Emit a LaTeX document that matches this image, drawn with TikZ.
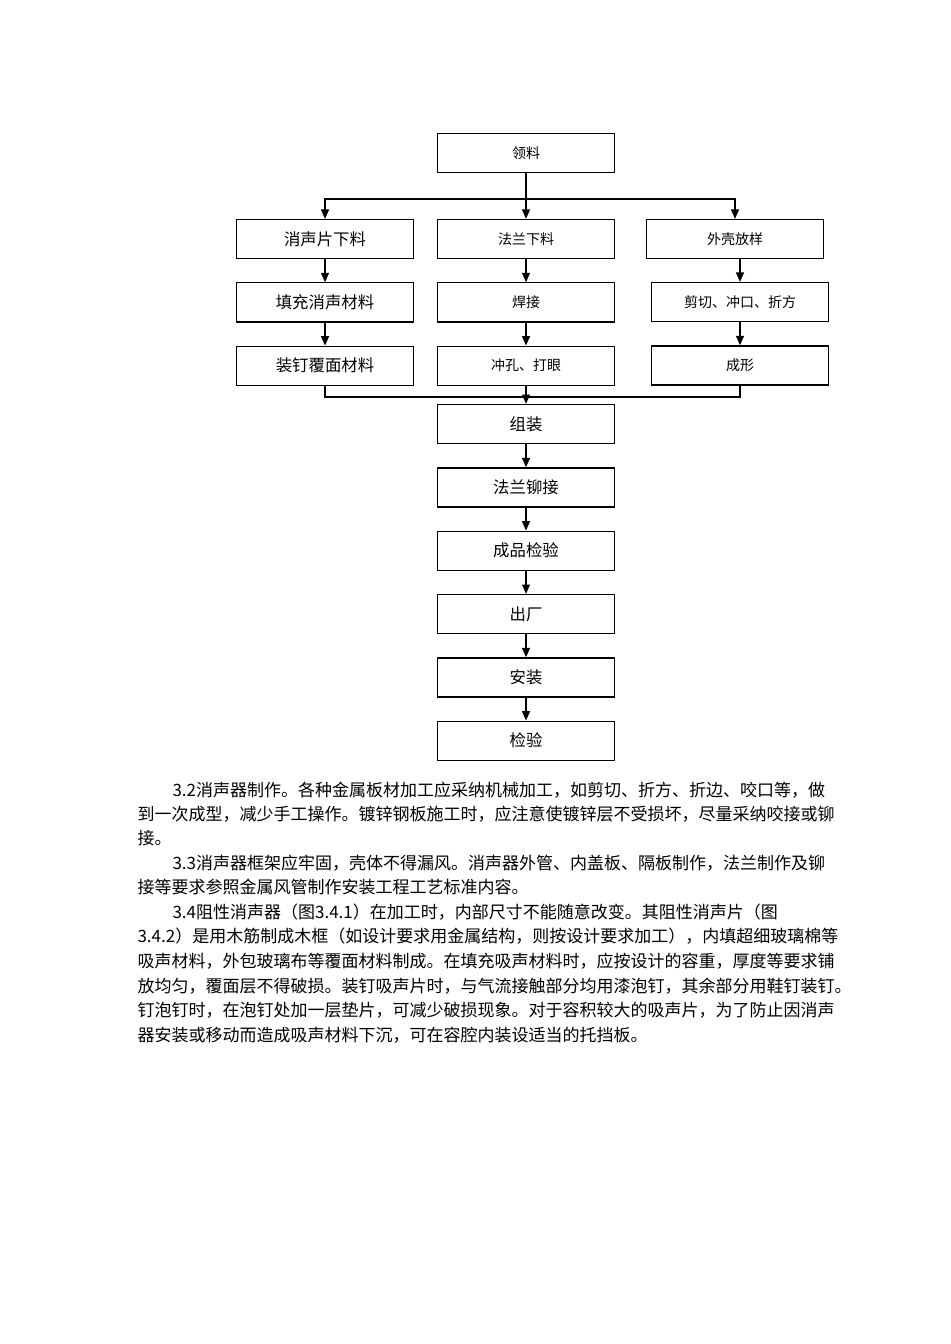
\documentclass[tikz,border=0pt]{standalone}
\usepackage{fontspec}
\newfontfamily\cjk{Noto Sans CJK SC}
\usetikzlibrary{arrows.meta,positioning}

\begin{document}
\begin{tikzpicture}
  [x=0.75pt,y=-0.75pt,node distance=17.25pt,>={Triangle[length=7pt,width=6pt]},
   every path/.style={line width=0.8pt},
   box/.style={rectangle,draw,line width=1pt,minimum width=133pt,minimum height=29.25pt,font=\cjk\fontsize{12.3}{14}\selectfont},
   smallbox/.style={box,font=\cjk\fontsize{10.5}{12}\selectfont},
   para/.style={anchor=west,inner sep=0pt,font=\cjk\fontsize{12.75}{15}\selectfont}]
  \useasboundingbox (0,0) rectangle (950,1344);
  \node[smallbox] (pick) at (526,153) {领料};
  \node[box] (sheet_cut) at (325,239) {消声片下料};
  \node[smallbox] (flange_cut) at (526,239) {法兰下料};
  \node[smallbox] (shell_layout) at (735,239) {外壳放样};
  \node[box] (fill) [below=of sheet_cut] {填充消声材料};
  \node[box] (cover) [below=of fill] {装钉覆面材料};
  \node[smallbox] (weld) [below=of flange_cut] {焊接};
  \node[smallbox] (punch) [below=of weld] {冲孔、打眼};
  \node[smallbox] (shear) at (740,302) {剪切、冲口、折方};
  \node[smallbox] (form) [below=of shear] {成形};
  \node[box] (assemble) at (526,424) {组装};
  \node[box] (rivet) [below=of assemble] {法兰铆接};
  \node[box] (check_prod) [below=of rivet] {成品检验};
  \node[box] (leave) [below=of check_prod] {出厂};
  \node[box] (install) [below=of leave] {安装};
  \node[box] (check) [below=of install] {检验};
  \coordinate (split) at (526,199);
  \coordinate (join) at (526,397);
  \draw (pick.south) -- (split);
  \draw [->] (split) -| (sheet_cut.north);
  \draw [->] (split) -- (flange_cut.north);
  \draw [->] (split) -| (shell_layout.north);
  \draw [->] (sheet_cut.south) -- (fill.north);
  \draw [->] (fill.south) -- (cover.north);
  \draw [->] (flange_cut.south) -- (weld.north);
  \draw [->] (weld.south) -- (punch.north);
  \draw [->] (shell_layout.south -| shear.north) -- (shear.north);
  \draw [->] (shear.south) -- (form.north);
  \draw (cover.south) |- (join) -| (form.south);
  \draw [->] (punch.south) -- (assemble.north);
  \draw [->] (assemble.south) -- (rivet.north);
  \draw [->] (rivet.south) -- (check_prod.north);
  \draw [->] (check_prod.south) -- (leave.north);
  \draw [->] (leave.south) -- (install.north);
  \draw [->] (install.south) -- (check.north);
  % text below the chart
  \node[para] (line_1) at (172,790) {3.2消声器制作。各种金属板材加工应采纳机械加工，如剪切、折方、折边、咬口等，做};
  \node[para] (line_2) at (137,814) {到一次成型，减少手工操作。镀锌钢板施工时，应注意使镀锌层不受损坏，尽量采纳咬接或铆};
  \node[para] (line_3) at (137,838) {接。};
  \node[para] (line_4) at (172,863) {3.3消声器框架应牢固，壳体不得漏风。消声器外管、内盖板、隔板制作，法兰制作及铆};
  \node[para] (line_5) at (137,887) {接等要求参照金属风管制作安装工程工艺标准内容。};
  \node[para] (line_6) at (172,912) {3.4阻性消声器（图3.4.1）在加工时，内部尺寸不能随意改变。其阻性消声片（图};
  \node[para] (line_7) at (137,936) {3.4.2）是用木筋制成木框（如设计要求用金属结构，则按设计要求加工），内填超细玻璃棉等};
  \node[para] (line_8) at (137,961) {吸声材料，外包玻璃布等覆面材料制成。在填充吸声材料时，应按设计的容重，厚度等要求铺};
  \node[para] (line_9) at (137,986) {放均匀，覆面层不得破损。装钉吸声片时，与气流接触部分均用漆泡钉，其余部分用鞋钉装钉。};
  \node[para] (line_10) at (137,1010) {钉泡钉时，在泡钉处加一层垫片，可减少破损现象。对于容积较大的吸声片，为了防止因消声};
  \node[para] (line_11) at (137,1035) {器安装或移动而造成吸声材料下沉，可在容腔内装设适当的托挡板。};
\end{tikzpicture}
\end{document}
